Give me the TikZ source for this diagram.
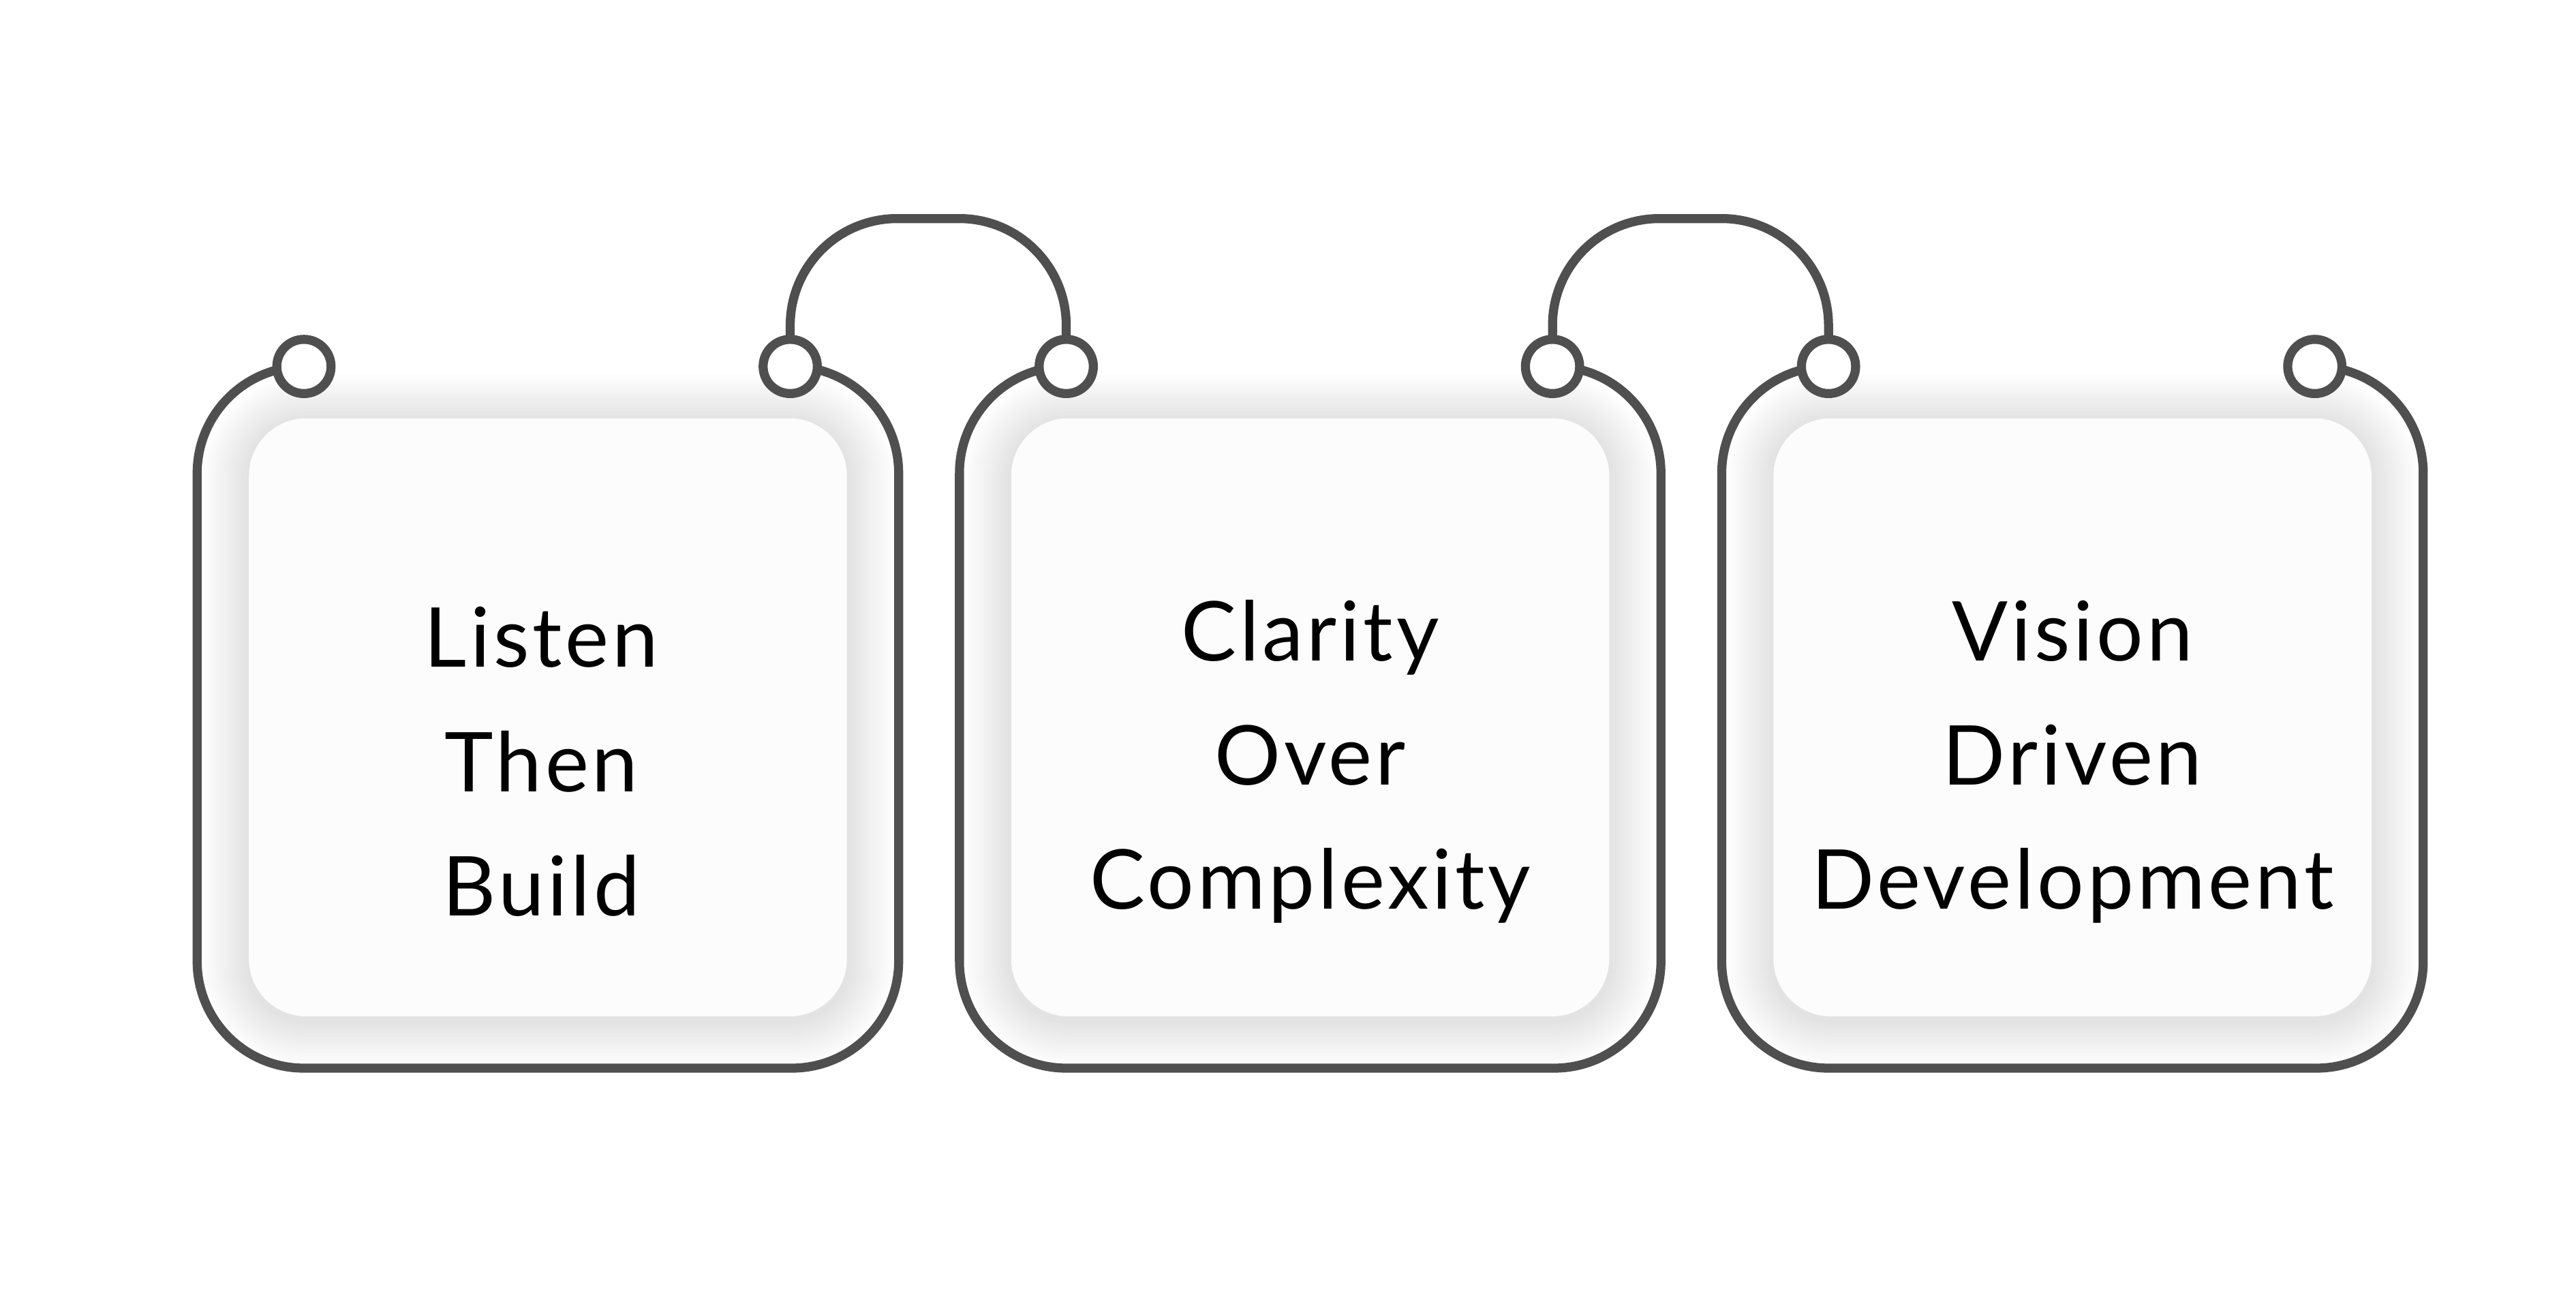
\documentclass[tikz,border=0pt]{standalone}
\usepackage{fontspec}
\setmainfont[LetterSpace=4]{Lato}
\usepackage{tikz}
\usetikzlibrary{calc,backgrounds}

\definecolor{linegray}{HTML}{4F4F4F}
\definecolor{cardfill}{HTML}{FCFCFC}

\tikzset{
  outline/.style={draw=linegray,line width=1.1mm},
  ring/.style={circle,draw=linegray,fill=white,line width=1.1mm,minimum size=6.6mm,inner sep=0pt},
  card/.style={rectangle,rounded corners=7mm,fill=cardfill,minimum width=72.8mm,minimum height=72.8mm,inner sep=0pt},
  cardtext/.style={align=center,font=\fontsize{28.6}{43}\selectfont},
  halo/.style={fill=black,fill opacity=0.008}
}

\begin{document}
\begin{tikzpicture}[x=0.2mm,y=-0.2mm]
\useasboundingbox (0,0) rectangle (1568,784);

\node[card] (B1) at (333.5,436.5) {};
\node[card] (B2) at (797.5,436.5) {};
\node[card] (B3) at (1261.5,436.5) {};

\node[cardtext] (T1) at ([xshift=-0.8mm,yshift=-5.4mm]B1.center) {Listen\\Then\\Build};
\node[cardtext] (T2) at ([yshift=-5.4mm]B2.center) {Clarity\\Over\\Complexity};
\node[cardtext] (T3) at ([yshift=-5.4mm]B3.center) {Vision\\Driven\\Development};

\begin{pgfonlayer}{background}
\fill[white] (0,0) rectangle (1568,784);
\foreach \b in {B1,B2,B3}
  \foreach \i in {1,...,14}
    \fill[halo,rounded corners=7mm+\i*0.4mm] ([xshift=-\i*0.4mm,yshift=-\i*0.4mm-0.4mm]\b.south west) rectangle ([xshift=\i*0.4mm,yshift=\i*0.4mm-0.4mm]\b.north east);
\end{pgfonlayer}

\coordinate (L1) at (185,223);
\coordinate (R1) at (481,223);
\coordinate (L2) at (649,223);
\coordinate (R2) at (945,223);
\coordinate (L3) at (1113,223);
\coordinate (R3) at (1409,223);

\foreach \l/\r in {L1/R1,L2/R2,L3/R3}
  \draw[outline,rounded corners=13mm] (\l) -- ++(-65,0) -- ++(0,427) -- ++(427,0) -- ++(0,-427) -- (\r);

\draw[outline,rounded corners=13mm] (R1) -- ++(0,-90) -| (L2);
\draw[outline,rounded corners=13mm] (R2) -- ++(0,-90) -| (L3);

\foreach \c in {L1,R1,L2,R2,L3,R3}
  \node[ring] (ring\c) at (\c) {};

\end{tikzpicture}
\end{document}
